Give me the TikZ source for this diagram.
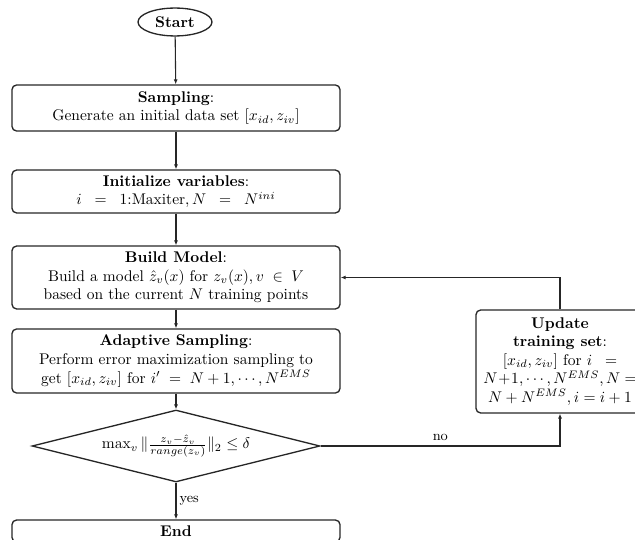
\documentclass[tikz,border=0pt]{standalone}
\usetikzlibrary{shapes.geometric,arrows.meta}
\begin{document}
\begin{tikzpicture}[x=0.645pt,y=-0.645pt,
  every node/.style={inner sep=0pt,align=center},
  box/.style={draw=black!85,line width=0.85pt,rounded corners=3pt,
    minimum width=211.6pt},
  startnode/.style={draw=black!85,line width=0.85pt,ellipse,
    minimum width=47.7pt,minimum height=18pt},
  decision/.style={draw=black!85,line width=0.85pt,diamond,aspect=4,
    minimum width=185.8pt,minimum height=46.4pt},
  flow/.style={draw=black!85,line width=0.7pt,-{Latex[length=3.2pt,width=2.6pt]}},
  lbl/.style={font=\small}]
\useasboundingbox (0,0) rectangle (635,540);
\clip (0,0) rectangle (635,540);

\node[startnode] (start) at (175,22) {\textbf{Start}};
\node[box,minimum height=29.7pt] (samp) at (176,108)
  {\textbf{Sampling}:\\ Generate an initial data set $[x_{id},z_{iv}]$};
\node[box,minimum height=27.7pt] (init) at (176,191.5)
  {\textbf{Initialize variables}:\\ $i\;\;=\;\;1$:Maxiter$,N\;\;=\;\;N^{ini}$};
\node[box,minimum height=40.6pt] (build) at (176,277.5)
  {\textbf{Build Model}:\\ Build a model $\hat{z}_v(x)$ for $z_v(x),v\;\in\;V$\\
   based on the current $N$ training points};
\node[box,minimum height=41.3pt] (adapt) at (176,361)
  {\textbf{Adaptive Sampling}:\\ Perform error maximization sampling to\\
   get $[x_{id},z_{iv}]$ for $i'\;=\;N+1,\cdots,N^{EMS}$};
\node[decision] (dec) at (176,446)
  {$\max_v\|\frac{z_v-\hat{z}_v}{range(z_v)}\|_2\le\delta$};
\node[box,minimum height=14.2pt] (end) at (176,531) {\textbf{End}};
\node[box,minimum width=108.4pt,minimum height=66.4pt] (upd) at (560,361.5)
  {\textbf{Update}\\ \textbf{training set}:\\ $[x_{id},z_{iv}]$ for $i\;\;=$\\
   $N\!+\!1,\cdots,N^{EMS},N=$\\ $N+N^{EMS},i=i+1$};

\draw[flow] (start) -- (samp);
\draw[flow] (samp) -- (init);
\draw[flow] (init) -- (build);
\draw[flow] (build) -- (adapt);
\draw[flow] (adapt) -- (dec.north);
\draw[flow] (dec.south) -- node[lbl,right=2pt]{yes} (end);
\draw[flow] (dec.east) -| node[lbl,above=3pt,pos=0.25]{no} (upd.south);
\draw[flow] (upd.north) |- (build.east);
\end{tikzpicture}
\end{document}
